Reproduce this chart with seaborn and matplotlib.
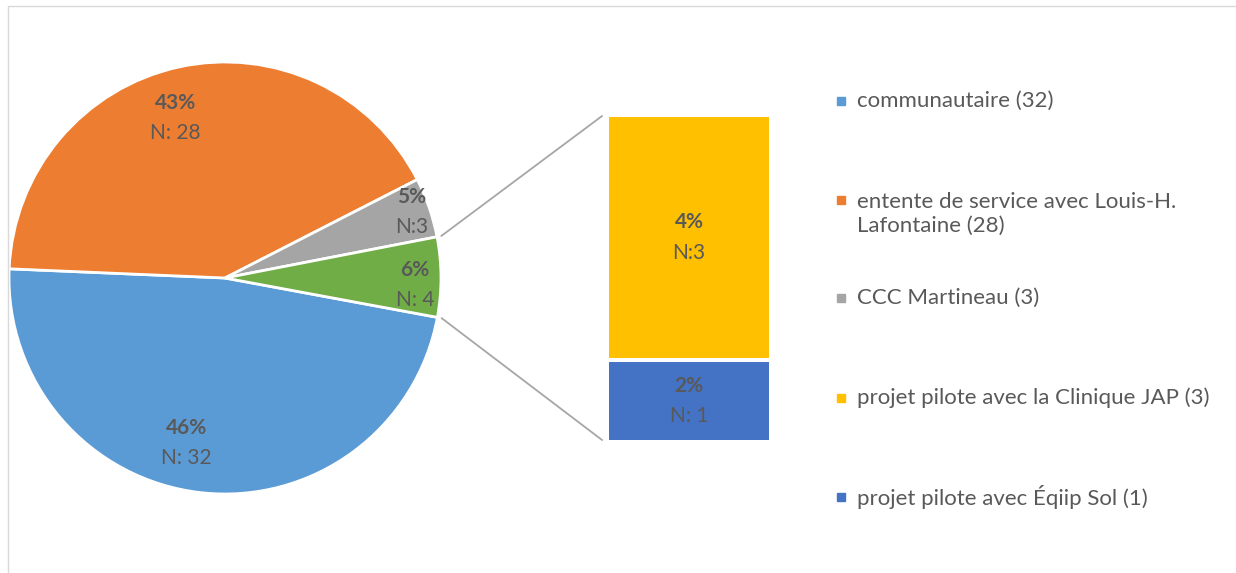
import numpy as np
import matplotlib
matplotlib.use("Agg")
import matplotlib.pyplot as plt
from matplotlib.patches import ConnectionPatch, Rectangle
import seaborn as sns

# main pie: three categories + the "other" wedge (green) that is split in the bar
pie_counts = [32, 28, 3, 4]
pie_pct = ["46%", "43%", "5%", "6%"]
pie_n = ["N: 32", "N: 28", "N:3", "N: 4"]

# bar of the "other" wedge, bottom to top
bar_counts = [1, 3]
bar_pct = ["2%", "4%"]
bar_n = ["N: 1", "N:3"]

legend_labels = [
    "communautaire (32)",
    "entente de service avec Louis-H.\nLafontaine (28)",
    "CCC Martineau (3)",
    "projet pilote avec la Clinique JAP (3)",
    "projet pilote avec Éqiip Sol (1)",
]

pie_colors = ["#5B9BD5", "#ED7D31", "#A5A5A5", "#70AD47"]
bar_colors = ["#4472C4", "#FFC000"]
legend_colors = ["#5B9BD5", "#ED7D31", "#A5A5A5", "#FFC000", "#4472C4"]
text_color = "#595959"

sns.set_theme(style="white")
plt.rcParams["font.family"] = ["Lato", "DejaVu Sans"]

W, H = 1236, 573
fig = plt.figure(figsize=(W / 100, H / 100), dpi=100)

# pie axes (pixel layout from the reference)
R, cx, cy = 216, 225, 278
L = 1.08
half = R * L
ax_pie = fig.add_axes([(cx - half) / W, (H - cy - half) / H, 2 * half / W, 2 * half / H])
wedges, _ = ax_pie.pie(pie_counts, colors=pie_colors, startangle=349.5, counterclock=False,
                       wedgeprops=dict(edgecolor="white", linewidth=2))
ax_pie.set_xlim(-L, L)
ax_pie.set_ylim(-L, L)
ax_pie.set_aspect("equal")

# label anchors inside each wedge (pie units)
label_pos = [(-0.18, -0.764), (-0.231, 0.741), (0.866, 0.306), (0.88, -0.032)]
for (x, y), p, n in zip(label_pos, pie_pct, pie_n):
    ax_pie.text(x, y + 0.07, p, ha="center", va="center", fontsize=15, fontweight="bold", color=text_color)
    ax_pie.text(x, y - 0.07, n, ha="center", va="center", fontsize=15, color=text_color)

# stacked bar
ax_bar = fig.add_axes([607 / W, (H - 442) / H, 164 / W, 327 / H])
bottoms = np.concatenate([[0], np.cumsum(bar_counts)[:-1]])
ax_bar.bar(0, bar_counts, bottom=bottoms, width=1, color=bar_colors, edgecolor="white", linewidth=2.9)
ax_bar.set_xlim(-0.5, 0.5)
ax_bar.set_ylim(0, sum(bar_counts))
ax_bar.axis("off")
for b, h, p, n in zip(bottoms, bar_counts, bar_pct, bar_n):
    ax_bar.annotate(p, (0, b + h / 2), xytext=(0, 11), textcoords="offset points",
                    ha="center", va="center", fontsize=15, fontweight="bold", color=text_color)
    ax_bar.annotate(n, (0, b + h / 2), xytext=(0, -11), textcoords="offset points",
                    ha="center", va="center", fontsize=15, color=text_color)

# connector lines from the green wedge to the bar
g = wedges[3]
t_hi, t_lo = np.deg2rad(g.theta2), np.deg2rad(g.theta1)
for t, yb in [(t_hi, 0.997), (t_lo, 0.006)]:
    con = ConnectionPatch(xyA=(1.02 * np.cos(t), 1.02 * np.sin(t)), coordsA=ax_pie.transData,
                          xyB=(-0.03, yb), coordsB=ax_bar.transAxes,
                          color="#A6A6A6", linewidth=1.3)
    fig.add_artist(con)

# legend drawn by hand (Excel spacing)
legend_y = [101, 214, 298, 398, 497]
marker_y = [101, 200, 298, 398, 497]
for lab, col, y, my in zip(legend_labels, legend_colors, legend_y, marker_y):
    fig.patches.append(Rectangle((837 / W, (H - my - 4) / H), 8 / W, 8 / H,
                                 transform=fig.transFigure, color=col))
    fig.text(857 / W, (H - y) / H, lab, ha="left", va="center",
             fontsize=16, color=text_color, linespacing=1.25,
             transform=fig.transFigure)

# light chart-area border
fig.patches.append(Rectangle((8 / W, -0.05), 1.0, 1 - 6 / H + 0.05, transform=fig.transFigure,
                             fill=False, edgecolor="#D9D9D9", linewidth=1))

fig.savefig("out.png", dpi=100)
